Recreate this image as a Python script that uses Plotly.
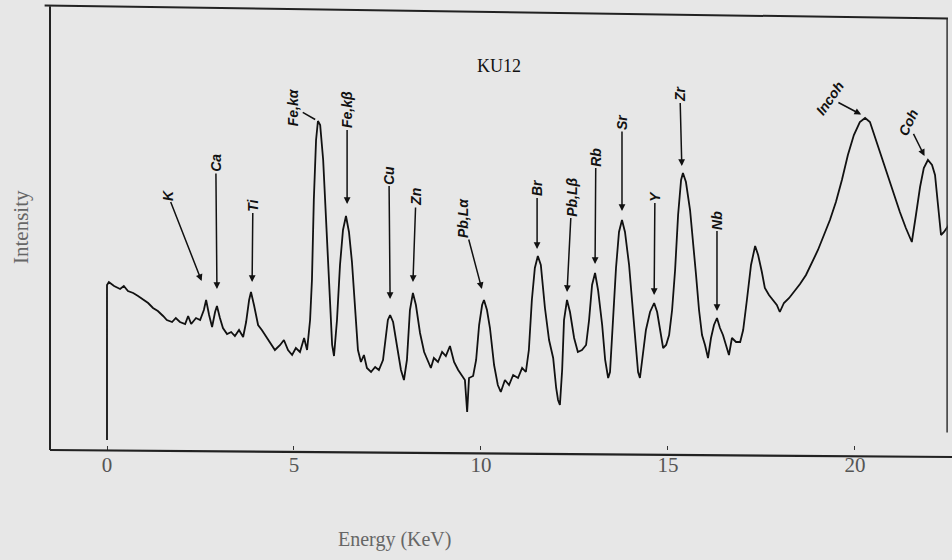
import plotly.graph_objects as go

# XRF spectrum of sample KU12: energy (keV) vs. intensity (arbitrary units)
energy = [
    0.00, 0.00, 0.05, 0.19, 0.35, 0.45, 0.56, 0.70, 0.83, 0.96, 1.10, 1.23, 1.36, 1.50, 1.60, 1.74,
    1.84, 1.95, 2.09, 2.17, 2.25, 2.38, 2.49, 2.59, 2.65, 2.73, 2.81, 2.89, 2.94, 3.02, 3.10, 3.21,
    3.32, 3.42, 3.53, 3.64, 3.72, 3.80, 3.85, 3.93, 4.04, 4.14, 4.25, 4.36, 4.49, 4.63, 4.73, 4.84,
    4.95, 5.05, 5.16, 5.27, 5.35, 5.43, 5.48, 5.53, 5.59, 5.64, 5.70, 5.78, 5.86, 5.94, 6.02, 6.07,
    6.15, 6.23, 6.31, 6.39, 6.47, 6.55, 6.63, 6.71, 6.79, 6.87, 6.95, 7.06, 7.17, 7.27, 7.38, 7.46,
    7.51, 7.57, 7.65, 7.75, 7.86, 7.94, 8.02, 8.10, 8.18, 8.26, 8.37, 8.48, 8.58, 8.66, 8.74, 8.85,
    8.96, 9.06, 9.17, 9.28, 9.39, 9.49, 9.57, 9.63, 9.68, 9.79, 9.87, 9.95, 10.03, 10.08, 10.16, 10.24,
    10.35, 10.45, 10.53, 10.64, 10.75, 10.86, 10.99, 11.10, 11.20, 11.28, 11.36, 11.44, 11.52, 11.60,
    11.71, 11.82, 11.93, 12.01, 12.06, 12.11, 12.17, 12.22, 12.30, 12.38, 12.49, 12.59, 12.70, 12.81,
    12.89, 12.97, 13.05, 13.13, 13.24, 13.32, 13.40, 13.45, 13.53, 13.61, 13.69, 13.77, 13.85, 13.96,
    14.06, 14.14, 14.20, 14.25, 14.33, 14.41, 14.52, 14.63, 14.71, 14.79, 14.87, 14.95, 15.03, 15.11,
    15.19, 15.27, 15.35, 15.40, 15.48, 15.59, 15.67, 15.75, 15.83, 15.91, 15.99, 16.07, 16.15, 16.23,
    16.31, 16.39, 16.47, 16.55, 16.63, 16.71, 16.82, 16.93, 17.01, 17.11, 17.22, 17.33, 17.41, 17.51,
    17.59, 17.70, 17.81, 17.91, 17.99, 18.10, 18.24, 18.37, 18.53, 18.69, 18.85, 19.01, 19.17, 19.33,
    19.49, 19.65, 19.81, 19.97, 20.13, 20.27, 20.40, 20.56, 20.72, 20.88, 21.04, 21.20, 21.36, 21.52,
    21.63, 21.74, 21.84, 21.95, 22.06, 22.14, 22.22, 22.30, 22.38, 22.49, 22.59,
]
intensity = [
    10, 165, 168, 164, 161, 164, 159, 157, 154, 151, 147, 142, 139, 134, 130, 128,
    132, 128, 126, 134, 126, 132, 130, 140, 150, 135, 123, 138, 144, 132, 122, 116,
    118, 114, 120, 113, 128, 150, 158, 145, 125, 120, 114, 108, 100, 105, 110, 100,
    95, 102, 98, 112, 100, 130, 170, 250, 310, 329, 325, 290, 230, 160, 105, 94,
    130, 185, 220, 234, 218, 188, 140, 100, 88, 95, 82, 78, 83, 80, 90, 115,
    130, 135, 128, 105, 80, 70, 90, 140, 157, 145, 117, 98, 88, 82, 92, 88,
    98, 94, 104, 88, 80, 75, 70, 38, 72, 74, 90, 125, 145, 150, 140, 122,
    85, 65, 58, 70, 65, 75, 72, 82, 78, 100, 150, 182, 194, 185,
    142, 110, 92, 62, 50, 45, 80, 130, 150, 138, 112, 98, 100, 105,
    130, 165, 177, 160, 125, 90, 72, 78, 130, 182, 218, 230, 218, 185,
    140, 100, 78, 72, 95, 120, 138, 147, 138, 120, 102, 105, 115, 140,
    180, 235, 270, 277, 268, 240, 210, 175, 140, 115, 105, 92, 112, 125,
    132, 122, 115, 105, 95, 112, 108, 108, 120, 150, 185, 204, 195, 178,
    162, 155, 150, 145, 138, 147, 152, 158, 166, 175, 188, 200, 215, 230,
    248, 270, 295, 315, 328, 332, 328, 310, 292, 272, 255, 238, 222, 208,
    235, 263, 282, 290, 285, 275, 245, 215, 218, 224, 232,
]

# Peak labels: name, arrow tip (keV, intensity), label centre (keV, intensity), text angle, arrowhead
peak_names = ["K", "Ca", "Ti", "Fe,kα", "Fe,kβ", "Cu", "Zn", "Pb,Lα", "Br", "Pb,Lβ",
              "Rb", "Sr", "Y", "Zr", "Nb", "Incoh", "Coh"]
tip_energy = [2.54, 2.94, 3.88, 5.59, 6.42, 7.57, 8.18, 10.03, 11.50, 12.30,
              13.05, 13.77, 14.63, 15.37, 16.31, 20.19, 21.87]
tip_intensity = [168, 160, 167, 330, 245, 150, 167, 160, 200, 157,
                 185, 238, 154, 283, 138, 335, 293]
label_energy = [1.63, 2.91, 3.90, 4.98, 6.42, 7.54, 8.26, 9.52, 11.50, 12.43,
                13.07, 13.77, 14.65, 15.32, 16.31, 19.33, 21.42]
label_intensity = [255, 287, 245, 343, 340, 275, 253, 232, 262, 253,
                   293, 328, 254, 357, 230, 352, 327]
label_angle = [-90, -90, -90, -90, -90, -90, -90, -90, -90, -90,
               -90, -90, -90, -90, -90, -55, -65]
label_head = [2, 2, 2, 0, 2, 2, 2, 2, 2, 2, 2, 2, 2, 2, 2, 2, 2]

x_ticks = [0, 5, 10, 15, 20]

fig = go.Figure()
fig.add_trace(go.Scatter(
    x=energy, y=intensity, mode="lines",
    line=dict(color="#111111", width=1.8),
    showlegend=False, hoverinfo="skip",
))

for name, tx, ty, lx, ly, ang, hd in zip(peak_names, tip_energy, tip_intensity,
                                         label_energy, label_intensity, label_angle, label_head):
    fig.add_annotation(
        x=tx, y=ty, ax=lx, ay=ly, axref="x", ayref="y", xref="x", yref="y",
        text=name, textangle=ang, showarrow=True,
        arrowhead=hd, arrowsize=0.9, arrowwidth=1.5, arrowcolor="#111111", standoff=1,
        font=dict(family="Liberation Sans, Arial", size=14, color="#111111",
                  weight="bold", style="italic"),
    )

bg = "#e7e7e7"
serif = "Liberation Serif, Times New Roman, serif"

fig.update_layout(
    width=952, height=560,
    margin=dict(l=50, r=4, t=12, b=110),
    paper_bgcolor=bg, plot_bgcolor=bg,
    xaxis=dict(
        range=[-1.524, 22.487], tickvals=x_ticks, ticktext=[str(v) for v in x_ticks],
        ticks="inside", ticklen=4, tickcolor="#333", tickwidth=1,
        showgrid=False, zeroline=False, showline=False,
        tickfont=dict(family=serif, size=21, color="#555555"),
    ),
    yaxis=dict(range=[0, 438], showticklabels=False, ticks="", showgrid=False,
               zeroline=False, showline=False),
    annotations=list(fig.layout.annotations) + [
        dict(text="KU12", x=0.5, y=0.905, xref="paper", yref="paper", showarrow=False,
             font=dict(family=serif, size=18, color="#111111")),
        dict(text="Intensity", textangle=-90, x=-0.033, y=0.51, xref="paper", yref="paper",
             xanchor="center", yanchor="middle",
             showarrow=False, font=dict(family=serif, size=21, color="#666666")),
        dict(text="Energy (KeV)", x=0.384, y=-0.205, xref="paper", yref="paper",
             xanchor="center", yanchor="middle",
             showarrow=False, font=dict(family=serif, size=20, color="#666666")),
    ],
    shapes=[
        # frame: left, top, right edges and the heavier energy axis
        dict(type="line", xref="paper", yref="paper", x0=0, x1=0, y0=0, y1=1.013,
             line=dict(color="#222222", width=2)),
        dict(type="line", xref="paper", yref="paper", x0=-0.006, x1=1.0, y0=1.015, y1=0.985,
             line=dict(color="#222222", width=2)),
        dict(type="line", xref="paper", yref="paper", x0=0.999, x1=0.999, y0=0.04, y1=0.985,
             line=dict(color="#333333", width=1.5)),
        dict(type="line", xref="paper", yref="paper", x0=0, x1=1.005, y0=0.0, y1=-0.016,
             line=dict(color="#222222", width=2.2)),
    ],
)

fig.write_html("out.html")
